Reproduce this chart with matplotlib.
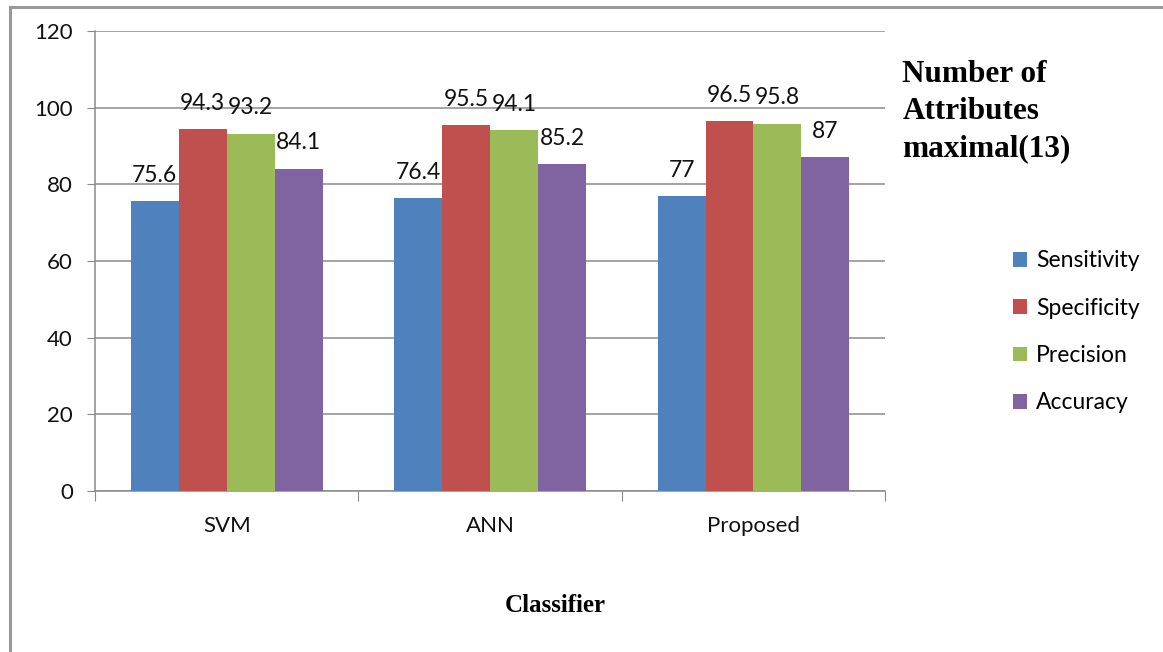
import numpy as np
import matplotlib.pyplot as plt
from matplotlib.lines import Line2D

classifiers = ["SVM", "ANN", "Proposed"]
metrics = ["Sensitivity", "Specificity", "Precision", "Accuracy"]
sensitivity = [75.6, 76.4, 77]
specificity = [94.3, 95.5, 96.5]
precision = [93.2, 94.1, 95.8]
accuracy = [84.1, 85.2, 87]
values = [sensitivity, specificity, precision, accuracy]
colors = ["#4F81BD", "#C0504D", "#9BBB59", "#8064A2"]
yticks = [0, 20, 40, 60, 80, 100, 120]

plt.rcParams['font.family'] = ['Lato', 'DejaVu Sans']

fig = plt.figure(figsize=(11.63, 6.52), dpi=100)
ax = fig.add_axes([0.0817, 0.2469, 0.6794, 0.7056])

x = np.arange(len(classifiers))
w = 0.182
for i, (name, vals) in enumerate(zip(metrics, values)):
    bars = ax.bar(x + (i - 1.5) * w, vals, w, color=colors[i], label=name, zorder=3)
    ax.bar_label(bars, labels=[f"{v:g}" for v in vals], padding=11, fontsize=16.5, color="#111111")

ax.set_xlim(-0.5, 2.5)
ax.set_ylim(0, 120)
ax.set_yticks(yticks)
ax.yaxis.grid(True, color="#8a8a8a", linewidth=1.1, zorder=0)
ax.tick_params(axis="y", length=6, color="#8a8a8a", labelsize=16, pad=10, labelcolor="#111111")

# group separators as major ticks, names on minor ticks
ax.set_xticks([-0.5, 0.5, 1.5, 2.5])
ax.set_xticklabels([])
ax.set_xticks(x, minor=True)
ax.set_xticklabels(classifiers, minor=True)
ax.tick_params(axis="x", which="major", length=7, color="#8a8a8a")
ax.tick_params(axis="x", which="minor", length=0, labelsize=16, pad=18, labelcolor="#111111")

for side in ["top", "right"]:
    ax.spines[side].set_visible(False)
for side in ["left", "bottom"]:
    ax.spines[side].set_color("#8a8a8a")
    ax.spines[side].set_linewidth(1.1)

fig.legend(loc="upper left", bbox_to_anchor=(0.863, 0.630), frameon=False,
           fontsize=16.5, handlelength=0.6, handleheight=0.6, handletextpad=0.4,
           labelspacing=1.15, borderaxespad=0)

fig.text(0.776, 0.908, "Number of\nAttributes\nmaximal(13)", family="Liberation Serif",
         fontweight="bold", fontsize=22.5, va="top", ha="left", linespacing=1.36)
fig.text(0.477, 0.072, "Classifier", family="Liberation Serif", fontweight="bold",
         fontsize=18, ha="center", va="center")

# outer frame (left and top edges)
fig.add_artist(Line2D([0.009, 0.009], [0, 0.989], color="#999999", linewidth=2.2))
fig.add_artist(Line2D([0.009, 1.0], [0.989, 0.989], color="#999999", linewidth=2.2))

fig.savefig("out.png", dpi=100)
